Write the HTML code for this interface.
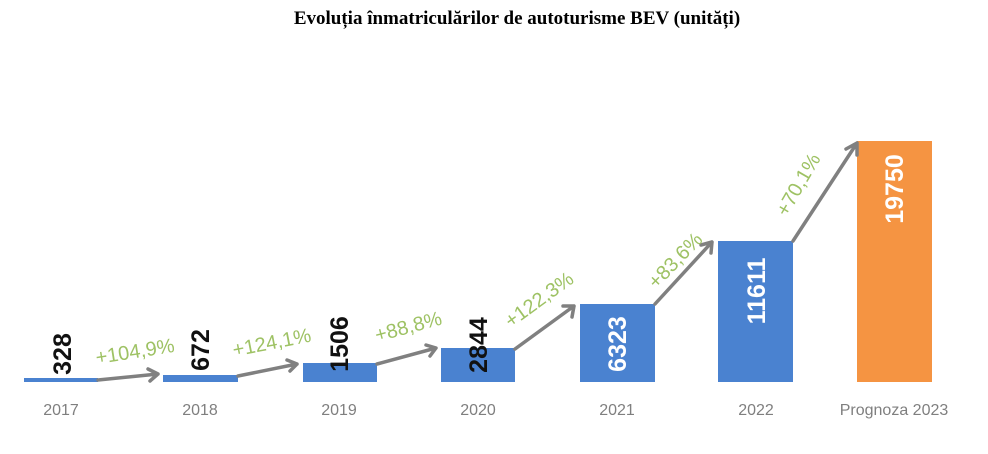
<!DOCTYPE html>
<html><head><meta charset="utf-8"><style>
body{margin:0;background:#fff;width:988px;height:449px;overflow:hidden}
</style></head><body>
<svg width="988" height="449" xmlns="http://www.w3.org/2000/svg">
<text x="517" y="24" text-anchor="middle" font-family="Liberation Serif, serif" font-weight="bold" font-size="19" fill="#000">Evoluția înmatriculărilor de autoturisme BEV (unități)</text>
<g fill="#4a82d0">
<rect x="24" y="378" width="74" height="4"/>
<rect x="163" y="375" width="75" height="7"/>
<rect x="303" y="363" width="74" height="19"/>
<rect x="441" y="348" width="74" height="34"/>
<rect x="580" y="304" width="75" height="78"/>
<rect x="718" y="241" width="75" height="141"/>
</g>
<rect x="857" y="141" width="75" height="241" fill="#f59442"/>
<g stroke="#808080" stroke-width="3.5" fill="none" stroke-linecap="round" stroke-linejoin="round">
<path d="M98 380 L158 374 M148 369 L158 374 L150 381"/>
<path d="M238 376 L297 364 M287 360 L297 364 L290 371"/>
<path d="M377 364 L436 348 M426 345 L436 348 L430 356"/>
<path d="M515 349 L574 306 M563 306 L574 306 L572 317"/>
<path d="M655 304 L712 242 M701 245 L712 242 L711 253"/>
<path d="M793 241 L857 143 M846 149 L857 143 L857 155"/>
</g>
<g font-family="Liberation Sans, sans-serif" font-weight="bold" font-size="25">
<text transform="translate(71,354) rotate(-90)" text-anchor="middle" fill="#111">328</text>
<text transform="translate(209,350) rotate(-90)" text-anchor="middle" fill="#111">672</text>
<text transform="translate(348,344) rotate(-90)" text-anchor="middle" fill="#111">1506</text>
<text transform="translate(487,345) rotate(-90)" text-anchor="middle" fill="#111">2844</text>
<text transform="translate(626,344) rotate(-90)" text-anchor="middle" fill="#fff">6323</text>
<text transform="translate(765,291) rotate(-90)" text-anchor="middle" fill="#fff">11611</text>
<text transform="translate(903,189) rotate(-90)" text-anchor="middle" fill="#fff">19750</text>
</g>
<g font-family="Liberation Sans, sans-serif" font-size="20" fill="#9ec264">
<text transform="translate(136,358) rotate(-9)" text-anchor="middle">+104,9%</text>
<text transform="translate(273,349) rotate(-11)" text-anchor="middle">+124,1%</text>
<text transform="translate(410,333) rotate(-15)" text-anchor="middle">+88,8%</text>
<text transform="translate(543,305) rotate(-36)" text-anchor="middle">+122,3%</text>
<text transform="translate(680,265) rotate(-46)" text-anchor="middle">+83,6%</text>
<text transform="translate(804,188) rotate(-60)" text-anchor="middle">+70,1%</text>
</g>
<g font-family="Liberation Sans, sans-serif" font-size="16" fill="#7f7f7f" text-anchor="middle">
<text x="61" y="415">2017</text>
<text x="200" y="415">2018</text>
<text x="339" y="415">2019</text>
<text x="478" y="415">2020</text>
<text x="617" y="415">2021</text>
<text x="756" y="415">2022</text>
<text x="894" y="415">Prognoza 2023</text>
</g>
</svg>
</body></html>
